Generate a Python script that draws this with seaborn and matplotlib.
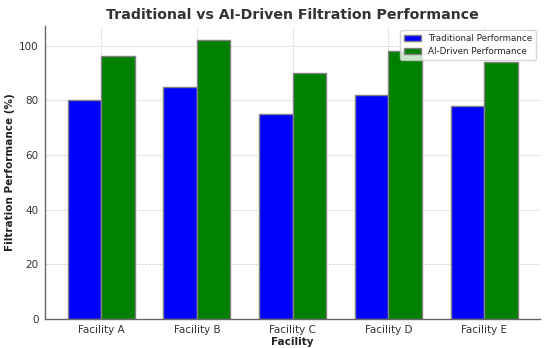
import matplotlib
matplotlib.use("Agg")
import matplotlib.pyplot as plt
import seaborn as sns
import pandas as pd

facilities = ["Facility A", "Facility B", "Facility C", "Facility D", "Facility E"]
traditional = [80, 85, 75, 82, 78]
ai_driven = [96, 102, 90, 98, 94]
series_names = ["Traditional Performance", "AI-Driven Performance"]

df = pd.DataFrame({
    "Facility": facilities * 2,
    "Performance": traditional + ai_driven,
    "Method": [series_names[0]] * len(facilities) + [series_names[1]] * len(facilities),
})

sns.set_theme(style="white")
plt.rcParams["font.family"] = ["DejaVu Sans"]

fig, ax = plt.subplots(figsize=(5.49, 3.48), dpi=100)
sns.barplot(
    data=df, x="Facility", y="Performance", hue="Method",
    palette=["blue", "green"], width=0.7, edgecolor="grey", linewidth=1,
    saturation=1, ax=ax,
)

ax.grid(True, linestyle="--", linewidth=0.5, color="#cccccc")
ax.set_axisbelow(True)
ax.set_xlim(-0.585, 4.585)
ax.set_ylim(0, 107.1)

ax.set_title("Traditional vs AI-Driven Filtration Performance",
             fontsize=10.2, fontweight="bold", color="#333333", pad=5)
ax.set_xlabel("Facility", fontsize=7.5, fontweight="bold", color="#222222", labelpad=1)
ax.set_ylabel("Filtration Performance (%)", fontsize=7.5, fontweight="bold",
              color="#222222")
ax.yaxis.set_label_coords(-0.061, 0.5)
ax.tick_params(axis="both", labelsize=7.5, labelcolor="#333333", length=3, width=0.8,
               color="#555555", pad=1.5)

for side in ["top", "right"]:
    ax.spines[side].set_visible(False)
for side in ["left", "bottom"]:
    ax.spines[side].set_color("#666666")
    ax.spines[side].set_linewidth(1)

ax.legend(title=None, loc="upper right", fontsize=6.3, frameon=True)

fig.subplots_adjust(left=0.082, right=0.984, bottom=0.083, top=0.925)
fig.savefig("out.png", dpi=100)
